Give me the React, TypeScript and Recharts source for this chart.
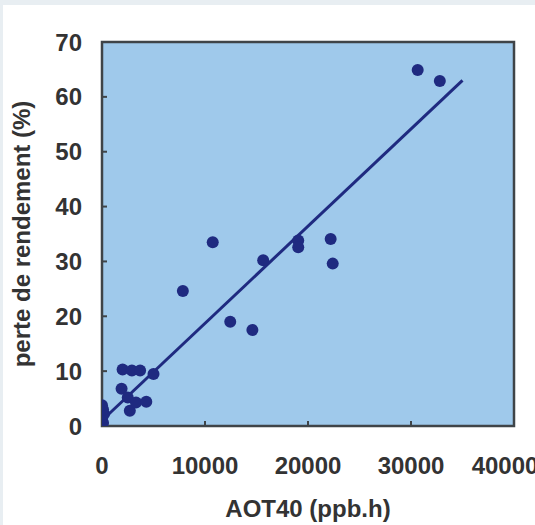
import React from 'react';
import { ComposedChart, Scatter, XAxis, YAxis, CartesianGrid, ReferenceArea } from 'recharts';

const aot40 = [0, 100, 0, 200, 100, 0, 1900, 2500, 2700, 3300, 4300, 2000, 2900, 3700, 5000, 7850, 10750, 12450, 14600, 15650, 19050, 19050, 22200, 22400, 30650, 32800];
const perte = [0, 0.6, 1.5, 2.2, 3.0, 3.8, 6.8, 5.2, 2.8, 4.3, 4.4, 10.3, 10.1, 10.1, 9.5, 24.6, 33.5, 19.0, 17.5, 30.2, 33.8, 32.6, 34.1, 29.6, 64.9, 62.9];

const fitX = [0, 35000];
const fitY = [1, 63];

const xTicks = [0, 10000, 20000, 30000, 40000];
const yTicks = [0, 10, 20, 30, 40, 50, 60, 70];

const points = aot40.map((x, i) => ({ x, y: perte[i] }));
const fitLine = fitX.map((x, i) => ({ x, y: fitY[i] }));

const NAVY = '#1f2a80';
const BORDER = '#3f4448';
const TEXT = '#333333';
const FONT = '"Liberation Sans", Arial, sans-serif';

export default function App() {
  return (
    <div style={{ position: 'absolute', left: 0, top: 0, width: 535, height: 525, background: '#e8eef2', overflow: 'hidden' }}>
      <div style={{ position: 'absolute', left: 3, top: 5, right: 0, bottom: 0, background: '#ffffff' }} />
      <div style={{ position: 'absolute', left: 0, top: 0 }}>
        <ComposedChart width={535} height={525} margin={{ top: 42, right: 21, bottom: 0, left: 0 }}>
          <CartesianGrid fill="#9fc9eb" horizontal={false} vertical={false} />
          <XAxis
            type="number"
            dataKey="x"
            domain={[0, 40000]}
            ticks={xTicks}
            height={99}
            axisLine={false}
            tickSize={-5}
            tickMargin={36}
            tickLine={{ stroke: BORDER, strokeWidth: 2 }}
            tick={{ fill: TEXT, fontSize: 24, fontWeight: 700, fontFamily: FONT }}
            allowDataOverflow
            label={{
              content: () => (
                <text x={308} y={517} textAnchor="middle" fill={TEXT} fontSize={24} fontWeight={700} fontFamily={FONT}>
                  AOT40 (ppb.h)
                </text>
              ),
            }}
          />
          <YAxis
            type="number"
            dataKey="y"
            domain={[0, 70]}
            ticks={yTicks}
            width={102}
            axisLine={false}
            tickSize={-5}
            tickMargin={25}
            tickLine={{ stroke: BORDER, strokeWidth: 2 }}
            tick={{ fill: TEXT, fontSize: 24, fontWeight: 700, fontFamily: FONT }}
            allowDataOverflow
            label={{
              content: () => (
                <text
                  x={30}
                  y={234}
                  transform="rotate(-90 30 234)"
                  textAnchor="middle"
                  fill={TEXT}
                  fontSize={24}
                  fontWeight={700}
                  fontFamily={FONT}
                >
                  perte de rendement (%)
                </text>
              ),
            }}
          />
          <ReferenceArea x1={0} x2={40000} y1={0} y2={70} fill="none" stroke={BORDER} strokeWidth={2.5} ifOverflow="visible" />
          <Scatter
            data={fitLine}
            isAnimationActive={false}
            line={{ stroke: NAVY, strokeWidth: 3 }}
            shape={() => <g />}
          />
          <Scatter
            data={points}
            isAnimationActive={false}
            fill={NAVY}
            shape={(p: any) => <circle cx={p.cx} cy={p.cy} r={6} fill={NAVY} />}
          />
        </ComposedChart>
      </div>
    </div>
  );
}
